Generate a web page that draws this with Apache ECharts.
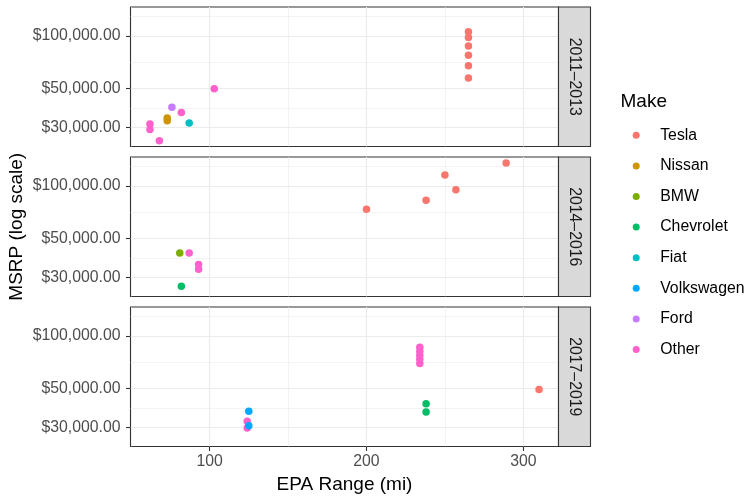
<!DOCTYPE html>
<html>
<head>
<meta charset="utf-8">
<script src="https://cdn.jsdelivr.net/npm/echarts@6/dist/echarts.min.js"></script>
<style>
html,body{margin:0;padding:0;background:#fff;}
#chart{width:746px;height:496px;}
</style>
</head>
<body>
<div id="chart"></div>
<script>
// ---- data ----
const makes = ['Tesla','Nissan','BMW','Chevrolet','Fiat','Volkswagen','Ford','Other'];
const palette = ['#F8766D','#CD9600','#7CAE00','#00BE67','#00BFC4','#00A9FF','#C77CFF','#FF61CC'];
const periods = ['2011–2013','2014–2016','2017–2019'];

const make_p1  = ['Tesla','Tesla','Tesla','Tesla','Tesla','Tesla','Nissan','Nissan','Fiat','Ford','Other','Other','Other','Other','Other'];
const range_p1 = [265,265,265,265,265,265,73,73,87,76,103,82,62,62,68];
const msrp_p1  = [105400,97900,87400,77400,67400,57400,34000,32800,31800,39200,49900,36600,31400,29200,25200];

const make_p2  = ['Tesla','Tesla','Tesla','Tesla','Tesla','BMW','Chevrolet','Other','Other','Other'];
const range_p2 = [289,250,257,238,200,81,82,87,93,93];
const msrp_p2  = [134900,115100,94900,82800,73600,41400,26800,41400,35600,33500];

const make_p3  = ['Tesla','Chevrolet','Chevrolet','Other','Other','Other','Other','Other','Other','Other','Volkswagen','Volkswagen'];
const range_p3 = [310,238,238,234,234,234,234,234,124,124,125,125];
const msrp_p3  = [49400,41000,36800,86000,81700,77500,73500,69500,32600,29800,37200,30700];

const xLimits = [49.6, 322.4];
const yLimits = [23400, 145900];
const xBreaks = [100, 200, 300];
const xMinorBreaks = [50, 150, 250];
const yBreaks = [30000, 50000, 100000];
const yMinorBreaks = [38730, 70711, 129080];

// ---- layout ----
const gridLeft = 130.5, gridWidth = 428, panelH = 139.5;
const panelTops = [7, 157, 307];
const stripW = 32;
const FONT = 'Liberation Sans, Arial, Helvetica, sans-serif';
const tickTextColor = '#4D4D4D';
const gridLineColor = '#EBEBEB';

function fmtDollar(v) {
  const n = Math.round(Number(v));
  const s = String(n).replace(/\B(?=(\d{3})+(?!\d))/g, ',');
  return '$' + s + '.00';
}

const panelData = [
  {make: make_p1, range: range_p1, msrp: msrp_p1},
  {make: make_p2, range: range_p2, msrp: msrp_p2},
  {make: make_p3, range: range_p3, msrp: msrp_p3}
];

const grids = [], xAxes = [], yAxes = [], series = [], graphics = [];

panelTops.forEach((top, i) => {
  grids.push({left: gridLeft, top: top, width: gridWidth, height: panelH,
    show: true, backgroundColor: '#fff', borderColor: '#333333', borderWidth: 1.1, containLabel: false});
  const isBottom = i === panelTops.length - 1;
  xAxes.push({
    type: 'value', gridIndex: i, min: xLimits[0], max: xLimits[1],
    axisLine: {show: false},
    axisTick: {show: isBottom, length: 4.5, lineStyle: {color: '#333333', width: 1.1}, customValues: xBreaks},
    axisLabel: {show: isBottom, color: tickTextColor, fontSize: 15.8, fontFamily: FONT, margin: 7, customValues: xBreaks},
    splitLine: {show: true, lineStyle: {color: gridLineColor, width: 1.1}, customValues: xBreaks},
    name: isBottom ? 'EPA Range (mi)' : '',
    nameLocation: 'middle', nameGap: 29,
    nameTextStyle: {color: '#000', fontSize: 19, fontFamily: FONT}
  });
  xAxes.push({
    type: 'value', gridIndex: i, min: xLimits[0], max: xLimits[1],
    axisLine: {show: false},
    axisTick: {show: false, customValues: xMinorBreaks},
    axisLabel: {show: false, customValues: xMinorBreaks},
    splitLine: {show: true, lineStyle: {color: gridLineColor, width: 0.6}, customValues: xMinorBreaks}
  });
  yAxes.push({
    type: 'log', logBase: 10, gridIndex: i, min: yLimits[0], max: yLimits[1],
    axisLine: {show: false},
    axisTick: {show: true, length: 4.5, lineStyle: {color: '#333333', width: 1.1}, customValues: yBreaks},
    axisLabel: {show: true, color: tickTextColor, fontSize: 15.8, fontFamily: FONT, margin: 10,
      formatter: fmtDollar, customValues: yBreaks},
    splitLine: {show: true, lineStyle: {color: gridLineColor, width: 1.1}, customValues: yBreaks}
  });
  yAxes.push({
    type: 'log', logBase: 10, gridIndex: i, min: yLimits[0], max: yLimits[1],
    axisLine: {show: false},
    axisTick: {show: false, customValues: yMinorBreaks},
    axisLabel: {show: false, customValues: yMinorBreaks},
    splitLine: {show: true, lineStyle: {color: gridLineColor, width: 0.6}, customValues: yMinorBreaks}
  });

  const pd = panelData[i];
  const order = [];
  pd.make.forEach(m => { if (order.indexOf(m) < 0) order.push(m); });
  order.forEach(m => {
    const pts = [];
    pd.make.forEach((mm, k) => { if (mm === m) pts.push([pd.range[k], pd.msrp[k]]); });
    series.push({
      type: 'scatter', name: m, xAxisIndex: i * 2, yAxisIndex: i * 2,
      data: pts, symbol: 'circle', symbolSize: 7.5,
      itemStyle: {color: palette[makes.indexOf(m)], opacity: 1},
      emphasis: {disabled: true}, animation: false
    });
  });

  graphics.push({
    type: 'rect', z: 100,
    shape: {x: gridLeft + gridWidth, y: top, width: stripW, height: panelH},
    style: {fill: '#D9D9D9', stroke: '#333333', lineWidth: 1.1}
  });
  graphics.push({
    type: 'text', z: 101,
    x: gridLeft + gridWidth + stripW / 2, y: top + panelH / 2,
    rotation: -Math.PI / 2,
    style: {text: periods[i], fill: '#1A1A1A', font: '15.8px ' + FONT, textAlign: 'center', textVerticalAlign: 'middle'}
  });
});

graphics.push({
  type: 'text', z: 101, x: 16.5, y: panelTops[0] + (panelTops[2] + panelH - panelTops[0]) / 2,
  rotation: Math.PI / 2,
  style: {text: 'MSRP (log scale)', fill: '#000', font: '19px ' + FONT, textAlign: 'center', textVerticalAlign: 'middle'}
});
graphics.push({
  type: 'text', z: 101, x: 620.5, y: 101.7,
  style: {text: 'Make', fill: '#000', font: '19px ' + FONT, textAlign: 'left', textVerticalAlign: 'middle'}
});

const chart = echarts.init(document.getElementById('chart'), null, {renderer: 'canvas'});
chart.setOption({
  backgroundColor: '#fff',
  animation: false,
  grid: grids,
  xAxis: xAxes,
  yAxis: yAxes,
  legend: {
    data: makes.map(m => ({name: m, icon: 'circle'})),
    orient: 'vertical', left: 627.7, top: 122.3,
    itemWidth: 38, itemHeight: 7, itemGap: 14.6,
    selectedMode: false,
    textStyle: {color: '#000', fontSize: 15.8, fontFamily: FONT, lineHeight: 16}
  },
  graphic: graphics,
  series: series
});
</script>
</body>
</html>
